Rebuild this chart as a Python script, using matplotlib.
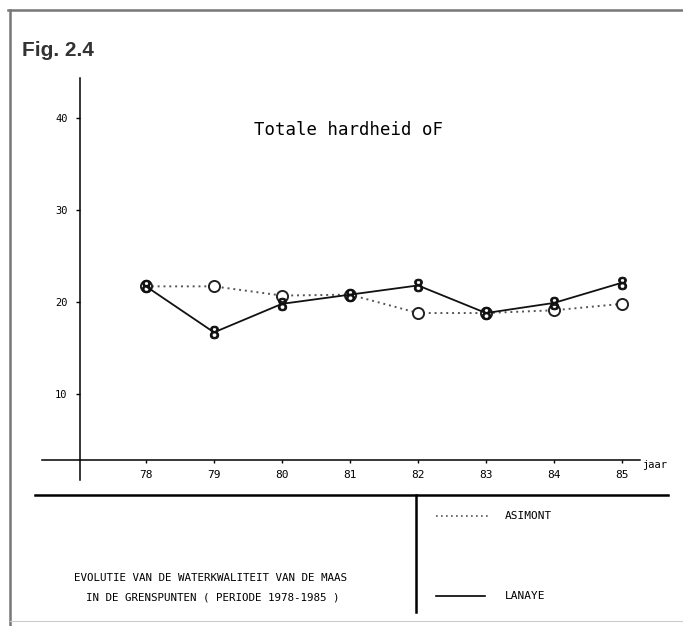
import matplotlib
matplotlib.use("Agg")
from matplotlib import pyplot as plt
from matplotlib.lines import Line2D

years = [78, 79, 80, 81, 82, 83, 84, 85]
asimont = [21.7, 21.7, 20.7, 20.8, 18.8, 18.8, 19.1, 19.8]
lanaye = [21.7, 16.7, 19.8, 20.8, 21.8, 18.8, 19.9, 22.1]
y_ticks = [10, 20, 30, 40]
tick_labels = ["78", "79", "80", "81", "82", "83", "84", "85"]

mono = "DejaVu Sans Mono"
W, H = 683, 626

fig = plt.figure(figsize=(W / 100, H / 100), dpi=100)
fig.patch.set_facecolor("white")

# plot area: x 76.4..85.4, y 0..45
ax = fig.add_axes([37.2 / W, (H - 486) / H, 612 / W, 414 / H])
ax.set_xlim(76.4, 85.4)
ax.set_ylim(0, 45)
ax.patch.set_alpha(0)

for s in ("top", "right"):
    ax.spines[s].set_visible(False)
ax.spines["left"].set_position(("data", 77.03))
ax.spines["left"].set_bounds(0.65, 44.3)
ax.spines["bottom"].set_position(("data", 2.83))
ax.spines["bottom"].set_bounds(76.47, 85.26)
ax.spines["left"].set_linewidth(1.1)
ax.spines["bottom"].set_linewidth(1.1)

ax.set_yticks(y_ticks)
ax.set_yticklabels([str(v) for v in y_ticks], family=mono, fontsize=7.5)
ax.set_xticks(years)
ax.set_xticklabels(tick_labels, family=mono, fontsize=8)
ax.tick_params(axis="y", length=3, width=1, pad=6)
ax.tick_params(axis="x", length=2, width=1, pad=5)

ax.plot(years, asimont, color="#555555", lw=1.4, linestyle=(0, (1, 2)),
        marker="o", markersize=8, mfc="white", mec="#222222", mew=1.4,
        zorder=3)
ax.plot(years, lanaye, color="#111111", lw=1.3,
        marker="$8$", markersize=9, mfc="#111111", mec="#111111", mew=0.8,
        zorder=4)

ax.text(85.3, 2.83, "jaar", family=mono, fontsize=7.5, va="top", ha="left")

# titles
fig.text(22 / W, 1 - 50 / H, "Fig. 2.4", family="Liberation Sans", weight="bold",
         fontsize=15, color="#333333", va="center", ha="left")
fig.text(348 / W, 1 - 130 / H, "Totale hardheid oF", family=mono,
         fontsize=12.5, va="center", ha="center")

# frame and separators
def fline(x0, y0, x1, y1, lw=1.5, color="black", ls="-"):
    fig.add_artist(Line2D([x0 / W, x1 / W], [1 - y0 / H, 1 - y1 / H],
                          lw=lw, color=color, linestyle=ls,
                          transform=fig.transFigure))

fline(8, 10, 683, 10, lw=1.8, color="#777777")
fline(10, 10, 10, 626, lw=1.8, color="#777777")
fline(10, 621, 683, 621, lw=0.8, color="#cccccc")
fline(35, 495, 668, 495, lw=1.8)
fline(416, 495, 416, 612, lw=1.8)

# legend
fline(436, 516, 490, 516, lw=1.2, color="#555555", ls=(0, (1, 2)))
fig.text(505 / W, 1 - 516 / H, "ASIMONT", family=mono, fontsize=8, va="center")
fline(436, 596, 485, 596, lw=1.2)
fig.text(505 / W, 1 - 596 / H, "LANAYE", family=mono, fontsize=8, va="center")

# caption
fig.text(211 / W, 1 - 578 / H, "EVOLUTIE VAN DE WATERKWALITEIT VAN DE MAAS",
         family=mono, fontsize=7.8, va="center", ha="center")
fig.text(213 / W, 1 - 598 / H, "IN DE GRENSPUNTEN ( PERIODE 1978-1985 )",
         family=mono, fontsize=7.8, va="center", ha="center")

fig.savefig("out.png", dpi=100)
